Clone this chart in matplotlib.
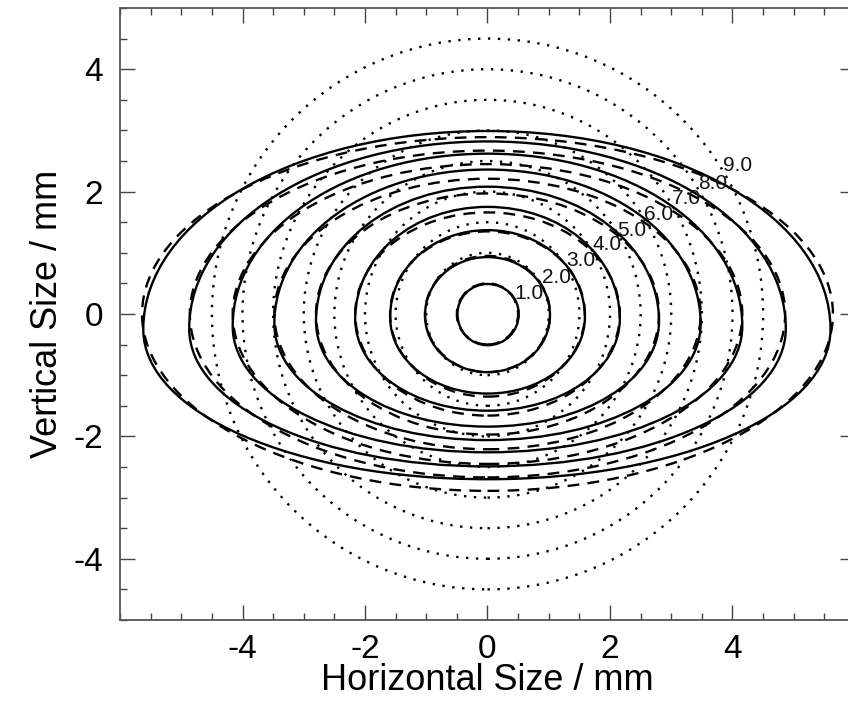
import numpy as np
import matplotlib.pyplot as plt
from matplotlib.path import Path
from matplotlib.patches import PathPatch, Ellipse, Circle
from matplotlib.ticker import MultipleLocator

plt.rcParams['font.family'] = ['Liberation Sans', 'DejaVu Sans']
plt.rcParams['axes.unicode_minus'] = False

# contour levels and their labels
levels = [1.0, 2.0, 3.0, 4.0, 5.0, 6.0, 7.0, 8.0, 9.0]
label_x = [0.68, 1.12, 1.53, 1.95, 2.36, 2.80, 3.24, 3.67, 4.09]
label_y = [0.34, 0.59, 0.87, 1.13, 1.37, 1.63, 1.89, 2.14, 2.42]

# measured contours (solid): half widths, y of widest point, top, bottom (mm)
meas_left = [0.49, 1.02, 1.59, 2.16, 2.80, 3.48, 4.16, 4.87, 5.62]
meas_right = [0.51, 1.02, 1.59, 2.16, 2.80, 3.48, 4.16, 4.87, 5.60]
meas_mid = [0.0, -0.02, -0.05, -0.08, -0.12, -0.16, -0.20, -0.24, -0.25]
meas_top = [0.49, 0.93, 1.37, 1.75, 2.08, 2.36, 2.62, 2.82, 2.99]
meas_bot = [-0.51, -0.95, -1.30, -1.58, -1.84, -2.06, -2.26, -2.49, -2.70]

# elliptical fits (dashed): semi axes
fit_a = [0.50, 1.02, 1.59, 2.16, 2.80, 3.48, 4.16, 4.86, 5.64]
fit_b = [0.50, 0.95, 1.35, 1.66, 1.97, 2.21, 2.45, 2.67, 2.89]

# reference circles (dotted): radii
circ_r = [0.5, 1.0, 1.5, 2.0, 2.5, 3.0, 3.5, 4.0, 4.5]


def egg(al, ar, ym, top, bot, kt=0.56, kb=0.56):
    verts = [(ar, ym), (ar, ym + kt * (top - ym)), (kt * ar, top), (0, top),
             (-kt * al, top), (-al, ym + kt * (top - ym)), (-al, ym),
             (-al, ym - kb * (ym - bot)), (-kb * al, bot), (0, bot),
             (kb * ar, bot), (ar, ym - kb * (ym - bot)), (ar, ym)]
    codes = [Path.MOVETO] + [Path.CURVE4] * 12
    return Path(verts, codes)


fig = plt.figure(figsize=(8.48, 7.07), dpi=100)
ax = fig.add_axes([120 / 848, 87 / 707, 735 / 848, 612 / 707])

lw = 1.7
for r in circ_r:
    ax.add_patch(Circle((0, 0), r, fill=False, color='black', lw=lw,
                        linestyle=(0, (1, 3.2))))

for a, b in zip(fit_a, fit_b):
    ax.add_patch(Ellipse((0, 0), 2 * a, 2 * b, fill=False, color='black', lw=lw,
                         linestyle=(0, (5, 3.5))))

for i in range(len(levels)):
    p = egg(meas_left[i], meas_right[i], meas_mid[i], meas_top[i], meas_bot[i])
    ax.add_patch(PathPatch(p, fill=False, color='black', lw=lw))

for lev, lx, ly in zip(levels, label_x, label_y):
    ax.text(lx, ly, f"{lev:.1f}", fontsize=15, color='#111111',
            ha='center', va='center')

ax.set_xlim(-6, 6)
ax.set_ylim(-5, 5)
ax.set_xticks([-4, -2, 0, 2, 4])
ax.set_yticks([-4, -2, 0, 2, 4])
ax.xaxis.set_minor_locator(MultipleLocator(0.5))
ax.yaxis.set_minor_locator(MultipleLocator(0.5))
ax.tick_params(which='both', direction='in', top=True, right=True,
               color='#444444', width=1)
ax.tick_params(which='major', length=11, labelsize=24)
ax.tick_params(axis='x', which='major', pad=10)
ax.tick_params(axis='y', which='major', pad=12)
ax.tick_params(which='minor', length=5)
for s in ax.spines.values():
    s.set_color('#555555')
    s.set_linewidth(1.3)

ax.set_xlabel("Horizontal Size / mm", fontsize=26, labelpad=-1)
ax.set_ylabel("Vertical Size / mm", fontsize=26, labelpad=6)

fig.savefig("out.png", dpi=100)
